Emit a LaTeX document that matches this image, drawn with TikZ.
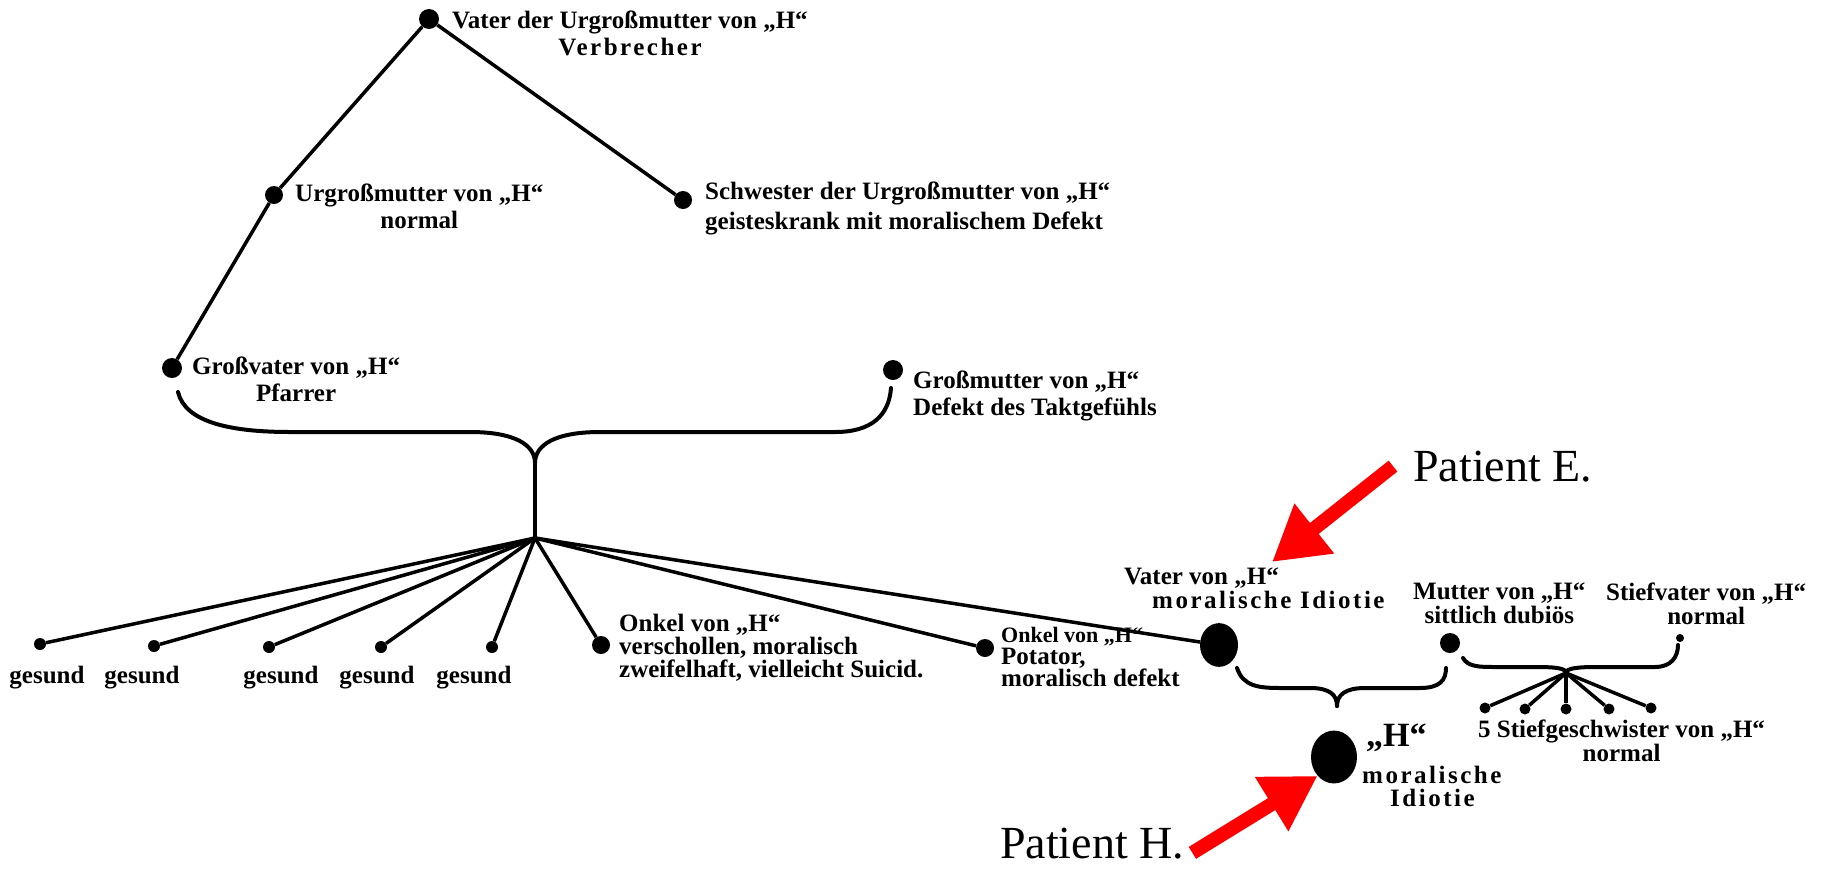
\documentclass[tikz,border=0pt]{standalone}
\usepackage{fontspec}
\setmainfont{Liberation Serif}
\newfontfamily\sperrfont[LetterSpace=10]{Liberation Serif}
\usetikzlibrary{arrows.meta,shapes.geometric}

\begin{document}
\begin{tikzpicture}[x=1pt,y=-1pt,
             dot/.style={circle,fill=black,inner sep=0pt,minimum size=#1pt},
             bigdot/.style={ellipse,fill=black,inner sep=0pt,minimum width=#1pt,minimum height=1.15*#1pt},
             txt/.style={inner sep=0pt,font=\fontsize{25}{27}\selectfont\bfseries},
             linie/.style={line width=3.5pt},
             klammer/.style={line width=4pt,line cap=round},
             pfeil/.style={draw=red,line width=14pt,-{Triangle[length=54pt,width=60pt]}}]
             \useasboundingbox (0,0) rectangle (1826,868);

             % Urgrosseltern
             \node[dot=20] (vurgm) at (429,19) {};
             \node[txt,anchor=north west,align=center] (vurgmtxt) at (452,11) {Vater der Urgroßmutter von „H“\\{\sperrfont Verbrecher}};
             \node[dot=18] (urgm) at (274,195) {};
             \node[txt,anchor=north west,align=center] (urgmtxt) at (295,184) {Urgroßmutter von „H“\\normal};
             \node[dot=18] (schw) at (683,200) {};
             \node[txt,anchor=north west,align=left,font=\fontsize{25}{30}\selectfont\bfseries] (schwtxt) at (705,182) {Schwester der Urgroßmutter von „H“\\geisteskrank mit moralischem Defekt};
             \draw[linie] (vurgm) -- (urgm);
             \draw[linie] (vurgm) -- (schw);

             % Grosseltern
             \node[dot=20] (gv) at (172,368) {};
             \node[txt,anchor=north west,align=center] (gvtxt) at (192,357) {Großvater von „H“\\Pfarrer};
             \node[dot=20] (gm) at (893,370) {};
             \node[txt,anchor=north west,align=left] (gmtxt) at (913,371) {Großmutter von „H“\\Defekt des Taktgefühls};
             \draw[linie] (urgm) -- (gv);

             \coordinate (gvende) at (178,392);
             \coordinate (gmende) at (891,388);
             \coordinate (gspitze) at (535,463);
             \coordinate (hub) at (535,538);
             \draw[klammer] (gvende) .. controls (185,422) and (230,432) .. (290,432) -- (470,432)
                  .. controls (515,432) and (535,445) .. (gspitze);
             \draw[klammer] (gspitze) .. controls (535,445) and (555,432) .. (600,432) -- (835,432)
                  .. controls (872,432) and (889,415) .. (gmende);
             \draw[linie] (gspitze) -- (hub);

             % Kinder
             \node[dot=12] (ges1) at (40,644) {};
             \node[dot=12] (ges2) at (154,646) {};
             \node[dot=12] (ges3) at (269,647) {};
             \node[dot=12] (ges4) at (381,647) {};
             \node[dot=12] (ges5) at (492,647) {};
             \node[txt,anchor=north] (gestxt1) at (47,666) {gesund};
             \node[txt,anchor=north] (gestxt2) at (142,666) {gesund};
             \node[txt,anchor=north] (gestxt3) at (281,666) {gesund};
             \node[txt,anchor=north] (gestxt4) at (377,666) {gesund};
             \node[txt,anchor=north] (gestxt5) at (474,666) {gesund};
             \node[dot=18] (onkel1) at (601,645) {};
             \node[txt,anchor=north west,align=left,font=\fontsize{25}{23}\selectfont\bfseries] (onkel1txt) at (619,614) {Onkel von „H“\\verschollen, moralisch\\zweifelhaft, vielleicht Suicid.};
             \node[dot=18] (onkel2) at (985,648) {};
             \node[txt,anchor=north west,align=left,font=\fontsize{25}{22}\selectfont\bfseries] (onkel2txt) at (1001,627) {{\fontsize{22}{22}\selectfont Onkel von „H“}\\Potator,\\moralisch defekt};
             \node[bigdot=38] (vater) at (1219,645) {};
             \node[txt,anchor=north west,align=left,font=\fontsize{25}{24}\selectfont\bfseries] (vatertxt) at (1124,568) {Vater von „H“\\\hspace*{28pt}{\sperrfont moralische Idiotie}};
             \draw[linie] (hub) -- (ges1);
             \draw[linie] (hub) -- (ges2);
             \draw[linie] (hub) -- (ges3);
             \draw[linie] (hub) -- (ges4);
             \draw[linie] (hub) -- (ges5);
             \draw[linie] (hub) -- (onkel1);
             \draw[linie] (hub) -- (onkel2);
             \draw[linie] (hub) -- (vater);

             % Eltern und Stieffamilie
             \node[dot=20] (mutter) at (1450,643) {};
             \node[txt,anchor=north west,align=center,font=\fontsize{25}{24}\selectfont\bfseries] (muttertxt) at (1413,583) {Mutter von „H“\\sittlich dubiös};
             \node[dot=8] (stiefv) at (1680,638) {};
             \node[txt,anchor=north west,align=center,font=\fontsize{25}{24}\selectfont\bfseries] (stiefvtxt) at (1606,583) {Stiefvater von „H“\\normal};

             \coordinate (vende) at (1237,668);
             \coordinate (mende) at (1446,668);
             \coordinate (hspitze) at (1337,706);
             \draw[klammer] (vende) .. controls (1243,686) and (1258,688) .. (1280,688) -- (1310,688)
                  .. controls (1330,688) and (1337,695) .. (hspitze);
             \draw[klammer] (hspitze) .. controls (1337,695) and (1345,688) .. (1365,688) -- (1420,688)
                  .. controls (1440,688) and (1446,680) .. (mende);

             \coordinate (m2ende) at (1463,658);
             \coordinate (sende) at (1678,645);
             \coordinate (sspitze) at (1566,673);
             \draw[klammer] (m2ende) .. controls (1468,667) and (1480,667) .. (1495,667) -- (1535,667)
                  .. controls (1555,667) and (1566,668) .. (sspitze);
             \draw[klammer] (sspitze) .. controls (1566,668) and (1578,667) .. (1598,667) -- (1655,667)
                  .. controls (1671,667) and (1678,657) .. (sende);

             \node[dot=11] (sg1) at (1485,708) {};
             \node[dot=11] (sg2) at (1525,709) {};
             \node[dot=11] (sg3) at (1566,709) {};
             \node[dot=11] (sg4) at (1609,709) {};
             \node[dot=11] (sg5) at (1651,708) {};
             \draw[linie] (sspitze) -- (sg1);
             \draw[linie] (sspitze) -- (sg2);
             \draw[linie] (sspitze) -- (sg3);
             \draw[linie] (sspitze) -- (sg4);
             \draw[linie] (sspitze) -- (sg5);
             \node[txt,anchor=north west,align=center,font=\fontsize{25}{24}\selectfont\bfseries] (sgtxt) at (1478,720) {5 Stiefgeschwister von „H“\\normal};

             % Patient
             \node[bigdot=46] (hdot) at (1334,757) {};
             \node[txt,anchor=north west,font=\fontsize{34}{34}\selectfont\bfseries] (htxt) at (1366,724) {„H“};
             \node[txt,anchor=north west,align=left,font=\fontsize{25}{23}\selectfont\bfseries] (hdiag) at (1362,766) {{\sperrfont moralische}\\\hspace*{28pt}{\sperrfont Idiotie}};

             % Markierungen
             \node[anchor=base west,inner sep=0pt,font=\fontsize{46}{46}\selectfont] (patE) at (1413,481) {Patient E.};
             \node[anchor=base west,inner sep=0pt,font=\fontsize{46}{46}\selectfont] (patH) at (1000,858) {Patient H.};
             \coordinate (tipE) at (1272,562);
             \draw[pfeil] ([xshift=-20pt]patE.west) -- (tipE);
             \draw[pfeil] ([xshift=8pt,yshift=6pt]patH.south east) -- (hdot.south west);
             \end{tikzpicture}
\end{document}
